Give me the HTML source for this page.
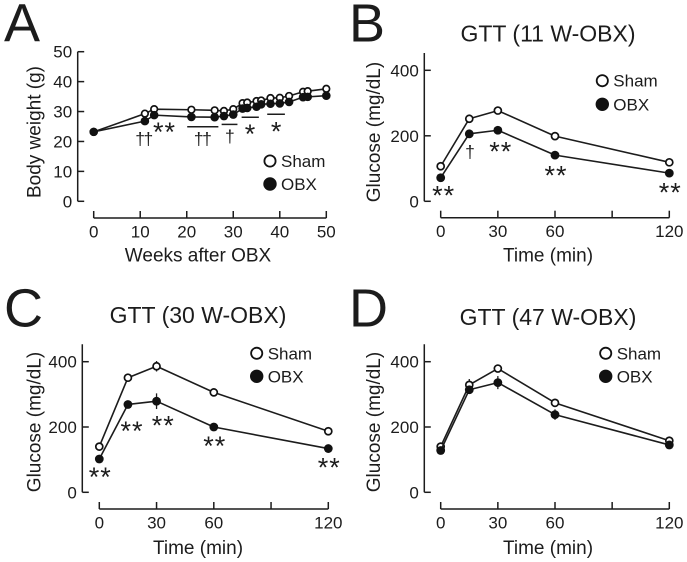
<!DOCTYPE html>
<html>
<head>
<meta charset="utf-8">
<title>Body weight and GTT after OBX</title>
<style>
html,body{margin:0;padding:0;background:#fff;}
svg{display:block;filter:blur(0.3px);}
text{font-family:"Liberation Sans",Arial,sans-serif;fill:#1c1c1c;}
</style>
</head>
<body>
<svg id="fig" width="687" height="562" viewBox="0 0 687 562" xmlns="http://www.w3.org/2000/svg"></svg>
<script>
// ---- Panel A data ----
const weeks = [0, 11, 13, 21, 26, 28, 30, 32, 33, 35, 36, 38, 40, 42, 45, 46, 50];
const shamWeight = [23.2, 29.3, 30.8, 30.6, 30.4, 30.2, 30.8, 32.8, 33, 33.5, 33.7, 34.5, 34.6, 35.2, 36.6, 36.8, 37.6];
const obxWeight = [23.2, 26.8, 28.8, 28.2, 28.1, 28.5, 29, 31, 31.2, 31.6, 32.4, 32.6, 32.7, 33.2, 34.8, 34.9, 35.3];
const weekTicks = [0, 10, 20, 30, 40, 50];
const weightTicks = [0, 10, 20, 30, 40, 50];
const sigBarStart = [20.1, 27.5, 31.8, 37.3];
const sigBarEnd = [26.8, 30.9, 35.5, 41.1];
const sigBarLevel = [24.9, 25.7, 28.1, 29.1];
const sigAWeeks = [10.7, 15, 23.3, 29.1, 33.5, 39.1];
const sigALevel = [20.9, 24.4, 20.9, 21.7, 23.6, 24.5];
const sigALabels = ['††', '**', '††', '†', '*', '*'];

// ---- GTT data ----
const gttTimes = [0, 15, 30, 60, 120];
const timeTicks = [0, 30, 60, 90, 120];
const timeTickLabels = ['0', '30', '60', '', '120'];
const glucoseTicks = [0, 200, 400];
const shamB = [107, 252, 277, 199, 119];
const obxB = [72, 206, 217, 141, 86];
const shamC = [140, 351, 386, 306, 187];
const obxC = [102, 269, 279, 200, 134];
const errShamC = [6, 12, 16, 8, 6];
const errObxC = [6, 12, 24, 8, 6];
const shamD = [140, 329, 379, 274, 158];
const obxD = [128, 314, 336, 238, 145];
const errShamD = [6, 18, 10, 12, 6];
const errObxD = [6, 10, 20, 16, 6];
const errNoneB = [0, 0, 0, 0, 0];
const sigBTimes = [1, 15, 31, 60, 120];
const sigBLevel = [29, 151, 162, 90, 37];
const sigBLabels = ['**', '†', '**', '**', '**'];
const sigCTimes = [0, 16.6, 33, 60, 120];
const sigCLevel = [58, 199, 216, 153, 87];
const sigCLabels = ['**', '**', '**', '**', '**'];

const NS = 'http://www.w3.org/2000/svg';
const svg = document.getElementById('fig');
const INK = '#1c1c1c';

function el(tag, attrs, parent) {
  const e = document.createElementNS(NS, tag);
  for (const k in attrs) e.setAttribute(k, attrs[k]);
  (parent || svg).appendChild(e);
  return e;
}
function group(name) {
  const g = el('g', {});
  
  
  return g;
}
function line(parent, name, x1, y1, x2, y2, w) {
  const e = el('line', {x1: x1, y1: y1, x2: x2, y2: y2, stroke: INK, 'stroke-width': w || 1.5}, parent);
  
  
  return e;
}
function label(parent, name, str, x, y, size, anchor, rot) {
  const attrs = {x: x, y: y, 'font-size': size, 'text-anchor': anchor || 'middle'};
  if (rot) attrs.transform = 'rotate(-90 ' + x + ' ' + y + ')';
  const e = el('text', attrs, parent);
  e.textContent = str;
  
  
  return e;
}
function scale(d0, d1, p0, p1) {
  return function (v) { return p0 + (v - d0) * (p1 - p0) / (d1 - d0); };
}
function sigMark(parent, str, x, cy) {
  const isStar = str.indexOf('*') >= 0;
  const e = label(parent, isStar ? 'significance-stars' : 'significance-daggers', str, x + (isStar ? 1 : 0), cy + (isStar ? 12.5 : 6), isStar ? 27 : 17.5);
  e.setAttribute('letter-spacing', isStar ? '1' : '-1.5');
  return e;
}
function series(parent, name, xs, ys, errs, xf, yf, filled, r) {
  const g = el('g', {}, parent);
  
  
  const pts = xs.map(function (v, i) { return xf(v) + ',' + yf(ys[i]); }).join(' ');
  const pl = el('polyline', {points: pts, fill: 'none', stroke: INK, 'stroke-width': 1.6, 'stroke-linejoin': 'round'}, g);
  
  
  xs.forEach(function (v, i) {
    if (errs && errs[i] > 0) {
      line(g, name + '-error-bar', xf(v), yf(ys[i] + errs[i]), xf(v), yf(ys[i] - errs[i]), 1.3);
    }
  });
  xs.forEach(function (v, i) {
    const c = el('circle', {
      cx: xf(v), cy: yf(ys[i]), r: filled ? r + 0.8 : r,
      fill: filled ? '#111' : '#fff', stroke: filled ? 'none' : '#111', 'stroke-width': 1.7
    }, g);
    
    
  });
}
function legend(parent, cx, tx, y1, y2) {
  const a = el('circle', {cx: cx, cy: y1, r: 5.6, fill: '#fff', stroke: '#111', 'stroke-width': 1.8}, parent);
  
  
  label(parent, 'legend-label-sham', 'Sham', tx, y1 + 6, 17, 'start');
  const b = el('circle', {cx: cx, cy: y2, r: 6.7, fill: '#111'}, parent);
  
  
  label(parent, 'legend-label-obx', 'OBX', tx, y2 + 6, 17, 'start');
}
function axes(g, o, yTicks, xTicks, xLabels, yf, xf) {
  line(g, 'y-axis-line', o.ax, o.yTop, o.ax, yf(0));
  yTicks.forEach(function (t) {
    line(g, 'y-axis-tick', o.ax, yf(t), o.ax + 6.5, yf(t));
    label(g, 'y-tick-label', String(t), o.ax - 5.5, yf(t) + 6, 17, 'end');
  });
  line(g, 'x-axis-line', xf(xTicks[0]), o.xAxisY, xf(xTicks[xTicks.length - 1]), o.xAxisY);
  xTicks.forEach(function (t, i) {
    line(g, 'x-axis-tick', xf(t), o.xAxisY - 7, xf(t), o.xAxisY);
    if (xLabels[i] !== '') label(g, 'x-tick-label', xLabels[i], xf(t), o.xAxisY + 19.5, 17);
  });
}

// Panel A
(function () {
  const g = group('panel-a-body-weight');
  const xf = scale(0, 50, 93.7, 326.3);
  const yf = scale(0, 50, 201.3, 51.7);
  label(g, 'panel-letter-a', 'A', 4, 41.7, 54, 'start');
  axes(g, {ax: 77.7, yTop: yf(50), xAxisY: 218}, weightTicks, weekTicks, weekTicks.map(String), yf, xf);
  label(g, 'y-axis-title', 'Body weight (g)', 40.5, 132, 19, 'middle', true);
  label(g, 'x-axis-title', 'Weeks after OBX', 198, 261.7, 19);
  series(g, 'sham', weeks, shamWeight, null, xf, yf, false, 3.3);
  series(g, 'obx', weeks, obxWeight, null, xf, yf, true, 3.5);
  sigBarStart.forEach(function (s, i) {
    line(g, 'significance-bar', xf(s), yf(sigBarLevel[i]), xf(sigBarEnd[i]), yf(sigBarLevel[i]), 1.5);
  });
  sigALabels.forEach(function (s, i) { sigMark(g, s, xf(sigAWeeks[i]), yf(sigALevel[i])); });
  legend(g, 270, 281, 161, 184);
})();

// Panel B
(function () {
  const g = group('panel-b-gtt-11w');
  const xf = scale(0, 120, 440.7, 669.3);
  const yf = scale(0, 400, 201.3, 70.3);
  label(g, 'panel-letter-b', 'B', 349, 41.7, 54, 'start');
  label(g, 'chart-title', 'GTT (11 W-OBX)', 548, 41.7, 23);
  axes(g, {ax: 424.3, yTop: 53, xAxisY: 217.7}, glucoseTicks, timeTicks, timeTickLabels, yf, xf);
  label(g, 'y-axis-title', 'Glucose (mg/dL)', 380, 132, 19, 'middle', true);
  label(g, 'x-axis-title', 'Time (min)', 548, 261.7, 19);
  series(g, 'sham', gttTimes, shamB, errNoneB, xf, yf, false, 3.5);
  series(g, 'obx', gttTimes, obxB, errNoneB, xf, yf, true, 3.6);
  sigBLabels.forEach(function (s, i) { sigMark(g, s, xf(sigBTimes[i]), yf(sigBLevel[i])); });
  legend(g, 602.3, 613.3, 80.7, 104.3);
})();

// Panel C
(function () {
  const g = group('panel-c-gtt-30w');
  const xf = scale(0, 120, 99.3, 328.3);
  const yf = scale(0, 400, 492.3, 361.7);
  label(g, 'panel-letter-c', 'C', 4, 326.7, 54, 'start');
  label(g, 'chart-title', 'GTT (30 W-OBX)', 198, 323, 23);
  axes(g, {ax: 82.3, yTop: 344.3, xAxisY: 509}, glucoseTicks, timeTicks, timeTickLabels, yf, xf);
  label(g, 'y-axis-title', 'Glucose (mg/dL)', 40.7, 422, 19, 'middle', true);
  label(g, 'x-axis-title', 'Time (min)', 198, 554, 19);
  series(g, 'sham', gttTimes, shamC, errShamC, xf, yf, false, 3.5);
  series(g, 'obx', gttTimes, obxC, errObxC, xf, yf, true, 3.6);
  sigCLabels.forEach(function (s, i) { sigMark(g, s, xf(sigCTimes[i]), yf(sigCLevel[i])); });
  legend(g, 256.7, 267.7, 353.3, 376.3);
})();

// Panel D
(function () {
  const g = group('panel-d-gtt-47w');
  const xf = scale(0, 120, 440.7, 669.3);
  const yf = scale(0, 400, 492.3, 361.7);
  label(g, 'panel-letter-d', 'D', 349, 326.7, 54, 'start');
  label(g, 'chart-title', 'GTT (47 W-OBX)', 548, 325, 23);
  axes(g, {ax: 424.3, yTop: 344.3, xAxisY: 509}, glucoseTicks, timeTicks, timeTickLabels, yf, xf);
  label(g, 'y-axis-title', 'Glucose (mg/dL)', 380, 422, 19, 'middle', true);
  label(g, 'x-axis-title', 'Time (min)', 548, 554, 19);
  series(g, 'sham', gttTimes, shamD, errShamD, xf, yf, false, 3.5);
  series(g, 'obx', gttTimes, obxD, errObxD, xf, yf, true, 3.6);
  legend(g, 605.7, 616.7, 353.3, 376.3);
})();
</script>
</body>
</html>
